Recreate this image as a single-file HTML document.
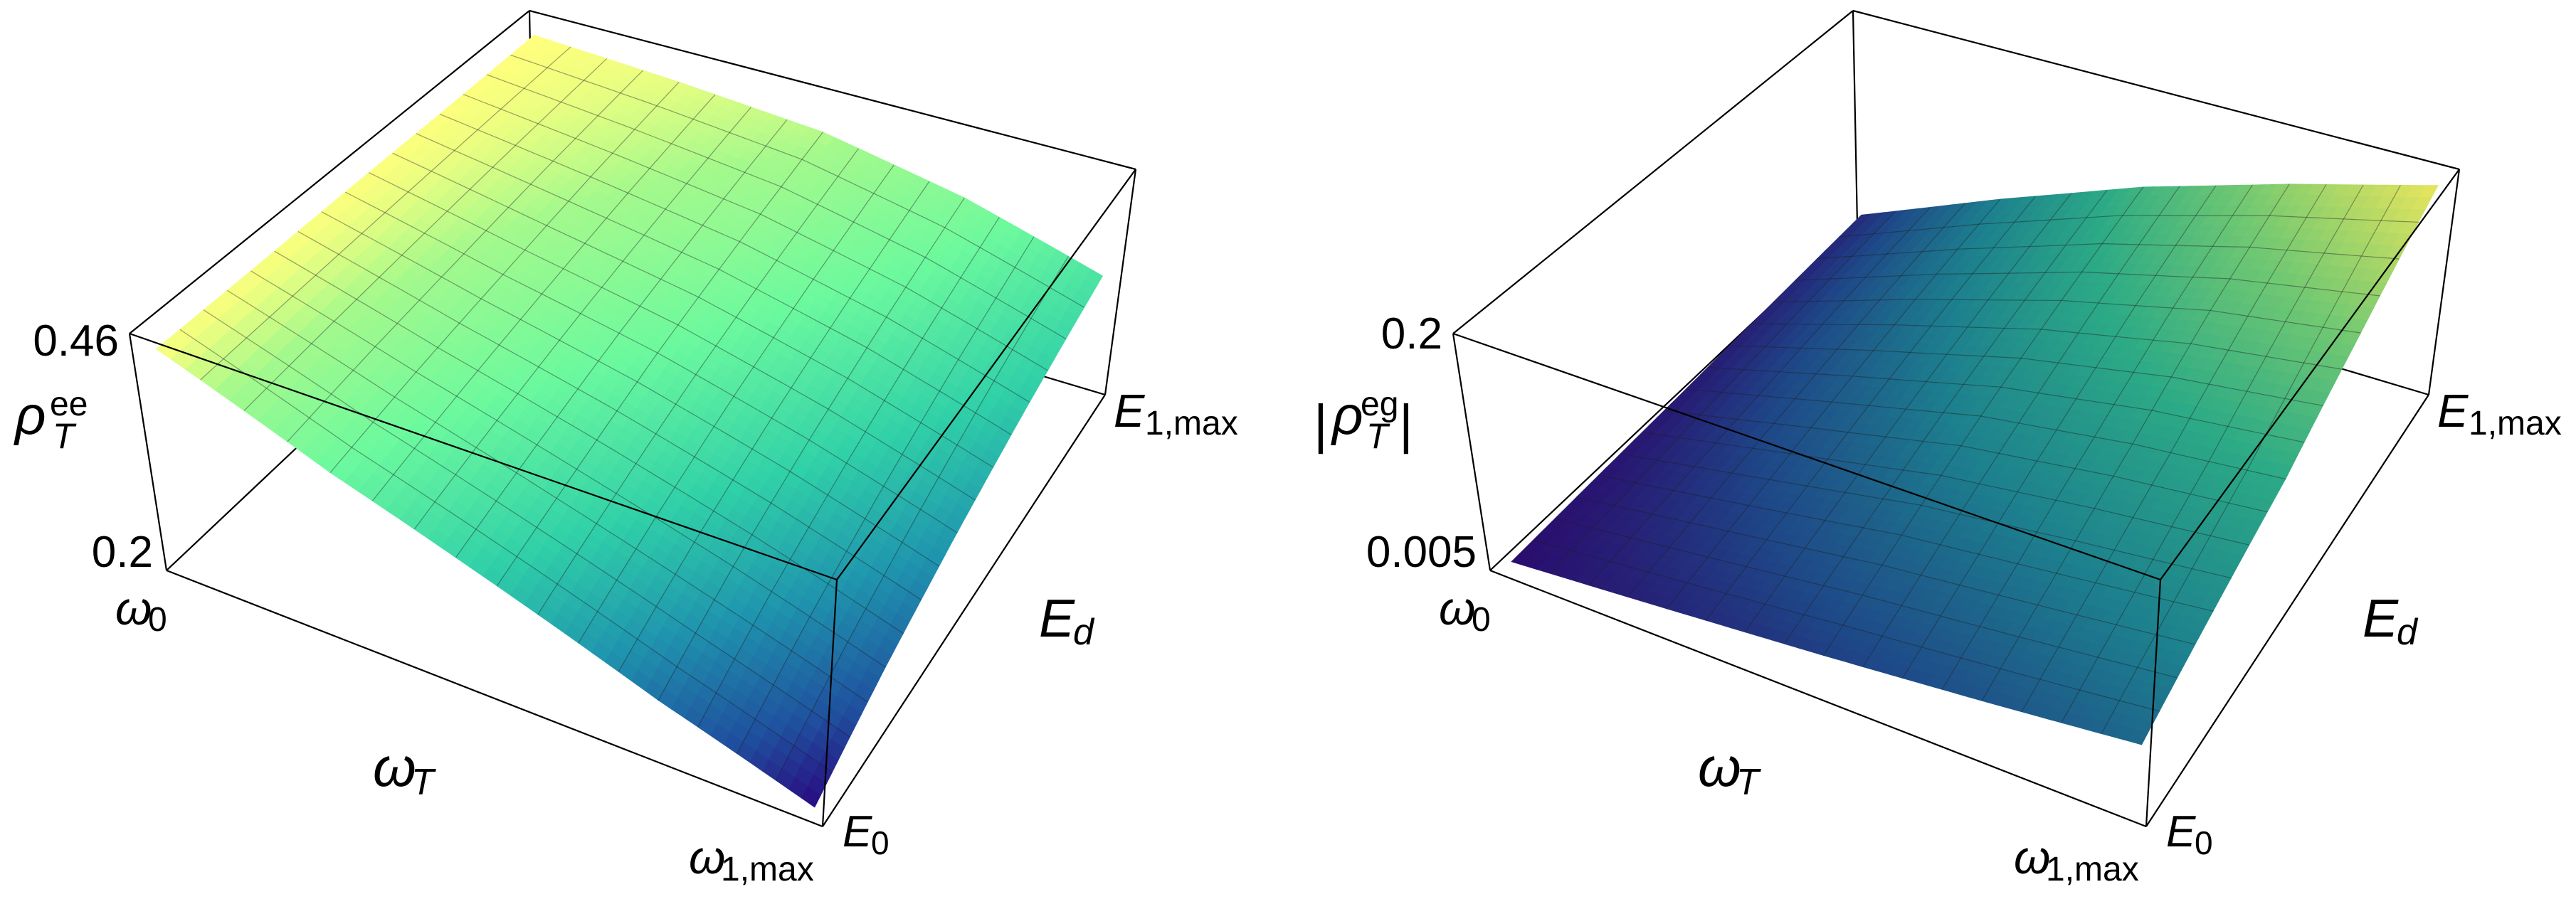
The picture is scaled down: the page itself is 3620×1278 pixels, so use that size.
<!DOCTYPE html>
<html><head><meta charset="utf-8"><style>
html,body{margin:0;padding:0;background:#fff;}
svg text{font-family:"Liberation Sans",sans-serif;fill:#000;}
.it{font-style:italic;}
</style></head><body>
<svg id="chart" width="3620" height="1273" viewBox="0 0 3620 1273" xmlns="http://www.w3.org/2000/svg">
<g id="left"></g>
<g id="right"></g>
<g font-size="62">
  <text x="167" y="500" text-anchor="end">0.46</text>
  <text x="215" y="797" text-anchor="end">0.2</text>
  <text><tspan class="it" x="21" y="610" font-size="76">ρ</tspan><tspan x="70" y="584" font-size="48">ee</tspan><tspan class="it" x="74" y="630" font-size="50">T</tspan></text>
  <text><tspan class="it" x="162" y="878" font-size="66">ω</tspan><tspan x="208" y="887" font-size="48">0</tspan></text>
  <text><tspan class="it" x="524" y="1105" font-size="78">ω</tspan><tspan class="it" x="578" y="1117" font-size="52">T</tspan></text>
  <text><tspan class="it" x="968" y="1228" font-size="66">ω</tspan><tspan x="1013" y="1238" font-size="48">1,max</tspan></text>
  <text><tspan class="it" x="1184" y="1190" font-size="62">E</tspan><tspan x="1224" y="1201" font-size="46">0</tspan></text>
  <text><tspan class="it" x="1460" y="895" font-size="75">E</tspan><tspan class="it" x="1508" y="906" font-size="52">d</tspan></text>
  <text><tspan class="it" x="1565" y="600" font-size="65">E</tspan><tspan x="1609" y="611" font-size="48">1,max</tspan></text>
</g>
<g font-size="62">
  <text x="2027" y="490" text-anchor="end">0.2</text>
  <text x="2075" y="797" text-anchor="end">0.005</text>
  <text><tspan x="1846" y="622" font-size="76">|</tspan><tspan class="it" x="1872" y="610" font-size="76">ρ</tspan><tspan x="1912" y="584" font-size="48">eg</tspan><tspan class="it" x="1920" y="630" font-size="50">T</tspan><tspan x="1966" y="622" font-size="76">|</tspan></text>
  <text><tspan class="it" x="2022" y="878" font-size="66">ω</tspan><tspan x="2068" y="887" font-size="48">0</tspan></text>
  <text><tspan class="it" x="2386" y="1105" font-size="78">ω</tspan><tspan class="it" x="2440" y="1117" font-size="52">T</tspan></text>
  <text><tspan class="it" x="2830" y="1228" font-size="66">ω</tspan><tspan x="2875" y="1238" font-size="48">1,max</tspan></text>
  <text><tspan class="it" x="3044" y="1190" font-size="62">E</tspan><tspan x="3084" y="1201" font-size="46">0</tspan></text>
  <text><tspan class="it" x="3320" y="895" font-size="75">E</tspan><tspan class="it" x="3368" y="906" font-size="52">d</tspan></text>
  <text><tspan class="it" x="3425" y="600" font-size="65">E</tspan><tspan x="3469" y="611" font-size="48">1,max</tspan></text>
</g>
</svg>
<script>
// sample positions (fraction of omega range / E range)
const omegaSamples = [0, 0.25, 0.5, 0.75, 1];
const energySamples = [0, 0.25, 0.5, 0.75, 1];
// left surface rho_T^ee, one row per E sample
const rhoEE_E0   = [0.464, 0.385, 0.320, 0.255, 0.200];
const rhoEE_E25  = [0.464, 0.405, 0.352, 0.300, 0.245];
const rhoEE_E50  = [0.465, 0.422, 0.385, 0.338, 0.285];
const rhoEE_E75  = [0.465, 0.440, 0.413, 0.373, 0.322];
const rhoEE_E100 = [0.466, 0.455, 0.440, 0.405, 0.355];
// right surface |rho_T^eg|
const rhoEG_E0   = [0.006, 0.018, 0.030, 0.043, 0.057];
const rhoEG_E25  = [0.009, 0.032, 0.055, 0.070, 0.085];
const rhoEG_E50  = [0.012, 0.047, 0.080, 0.100, 0.113];
const rhoEG_E75  = [0.016, 0.062, 0.103, 0.135, 0.155];
const rhoEG_E100 = [0.020, 0.075, 0.125, 0.165, 0.200];
const leftZRange = [0.195, 0.485];
const rightZRange = [0.0, 0.21];

const NS = "http://www.w3.org/2000/svg";
const C = {
  "000":[234,802], "100":[1156,1162], "010":[750,315], "110":[1553,555],
  "001":[182,469], "101":[1176,815], "011":[744,15], "111":[1596,238]
};
const PAD = 0.022;
function lerp(a,b,t){return [a[0]+(b[0]-a[0])*t, a[1]+(b[1]-a[1])*t];}
function proj(w,e,z,dx){
  const a=lerp(C["000"],C["100"],w), b=lerp(C["010"],C["110"],w);
  const c=lerp(C["001"],C["101"],w), d=lerp(C["011"],C["111"],w);
  const lo=lerp(a,b,e), hi=lerp(c,d,e);
  const p=lerp(lo,hi,z); return [p[0]+dx,p[1]];
}
function interp(rows,u,v){
  const n=omegaSamples.length-1;
  let i=Math.min(n-1,Math.floor(u*n)), j=Math.min(n-1,Math.floor(v*n));
  const fu=(u-omegaSamples[i])/(omegaSamples[i+1]-omegaSamples[i]);
  const fv=(v-energySamples[j])/(energySamples[j+1]-energySamples[j]);
  const a=rows[j][i]+(rows[j][i+1]-rows[j][i])*fu;
  const b=rows[j+1][i]+(rows[j+1][i+1]-rows[j+1][i])*fu;
  return a+(b-a)*fv;
}
function hex(h){return [parseInt(h.slice(1,3),16),parseInt(h.slice(3,5),16),parseInt(h.slice(5,7),16)];}
function palColor(pal,t){
  t=Math.max(0,Math.min(1,t));
  for(let k=0;k<pal.length-1;k++){
    if(t<=pal[k+1][0]){
      const f=(t-pal[k][0])/(pal[k+1][0]-pal[k][0]);
      const a=hex(pal[k][1]),b=hex(pal[k+1][1]);
      return "rgb("+a.map((x,q)=>Math.round(x+(b[q]-x)*f)).join(",")+")";
    }
  }
  return pal[pal.length-1][1];
}
const leftPal=[[0,"#2a0a80"],[0.12,"#1f4f9e"],[0.3,"#1f95ae"],[0.48,"#30d0a8"],[0.7,"#6cf99e"],[0.88,"#a4f98c"],[0.97,"#eefe80"],[1,"#ffff7c"]];
const rightPal=[[0,"#2a0d6e"],[0.15,"#1e4888"],[0.35,"#1d808e"],[0.55,"#2caa86"],[0.75,"#70c872"],[1,"#eae65c"]];

function line(g,p,q,name,w,col){
  const l=document.createElementNS(NS,"line");
  l.setAttribute("x1",p[0]);l.setAttribute("y1",p[1]);l.setAttribute("x2",q[0]);l.setAttribute("y2",q[1]);
  l.setAttribute("stroke",col||"#000");l.setAttribute("stroke-width",w||2.2);
  
  
  g.appendChild(l);
}
function corner(k,dx){return [C[k][0]+dx,C[k][1]];}

function drawPlot(gid,dx,rows,zr,pal,tMin,tMax){
  const g=document.getElementById(gid);
  line(g,corner("000",dx),corner("010",dx),"box-edge-back-left-bottom");
  line(g,corner("010",dx),corner("110",dx),"box-edge-back-bottom");
  line(g,corner("010",dx),corner("011",dx),"box-edge-back-left-vertical");
  const zn=z=>(z-zr[0])/(zr[1]-zr[0]);
  const P=(u,v)=>{const z=interp(rows,u,v);return proj(PAD+(1-2*PAD)*u,PAD+(1-2*PAD)*v,zn(z),dx);};
  const N=48;
  const surf=document.createElementNS(NS,"g");
  
  
  g.appendChild(surf);
  for(let j=N-1;j>=0;j--){
    for(let i=0;i<N;i++){
      const u0=i/N,u1=(i+1)/N,v0=j/N,v1=(j+1)/N;
      const pts=[P(u0,v0),P(u1,v0),P(u1,v1),P(u0,v1)];
      const zc=interp(rows,(u0+u1)/2,(v0+v1)/2);
      const col=palColor(pal,(zc-tMin)/(tMax-tMin));
      const pg=document.createElementNS(NS,"polygon");
      pg.setAttribute("points",pts.map(p=>p[0].toFixed(1)+","+p[1].toFixed(1)).join(" "));
      pg.setAttribute("fill",col);pg.setAttribute("stroke",col);pg.setAttribute("stroke-width","1");
      
      
      surf.appendChild(pg);
    }
  }
  const M=16,S=40;
  for(let k=1;k<M;k++){
    let d1="",d2="";
    for(let s=0;s<=S;s++){
      const a=P(k/M,s/S),b=P(s/S,k/M);
      d1+=(s?"L":"M")+a[0].toFixed(1)+","+a[1].toFixed(1);
      d2+=(s?"L":"M")+b[0].toFixed(1)+","+b[1].toFixed(1);
    }
    [d1,d2].forEach((d,q)=>{
      const p=document.createElementNS(NS,"path");
      p.setAttribute("d",d);p.setAttribute("fill","none");
      p.setAttribute("stroke","rgba(30,30,30,0.42)");
      p.setAttribute("stroke-width","1.2");
      
      
      surf.appendChild(p);
    });
  }
  line(g,corner("001",dx),corner("101",dx),"box-edge-top-front");
  line(g,corner("101",dx),corner("111",dx),"box-edge-top-right");
  line(g,corner("101",dx),corner("100",dx),"box-edge-front-right-vertical");
  line(g,corner("000",dx),corner("001",dx),"box-edge-front-left-vertical");
  line(g,corner("000",dx),corner("100",dx),"omega-axis-line");
  line(g,corner("100",dx),corner("110",dx),"energy-axis-line");
  line(g,corner("001",dx),corner("011",dx),"box-edge-top-left");
  line(g,corner("011",dx),corner("111",dx),"box-edge-top-back");
  line(g,corner("110",dx),corner("111",dx),"box-edge-back-right-vertical");
}
const leftRows=[rhoEE_E0,rhoEE_E25,rhoEE_E50,rhoEE_E75,rhoEE_E100];
const rightRows=[rhoEG_E0,rhoEG_E25,rhoEG_E50,rhoEG_E75,rhoEG_E100];
drawPlot("left",0,leftRows,leftZRange,leftPal,0.2,0.466);
drawPlot("right",1860,rightRows,rightZRange,rightPal,0.006,0.2);
</script>
</body></html>
